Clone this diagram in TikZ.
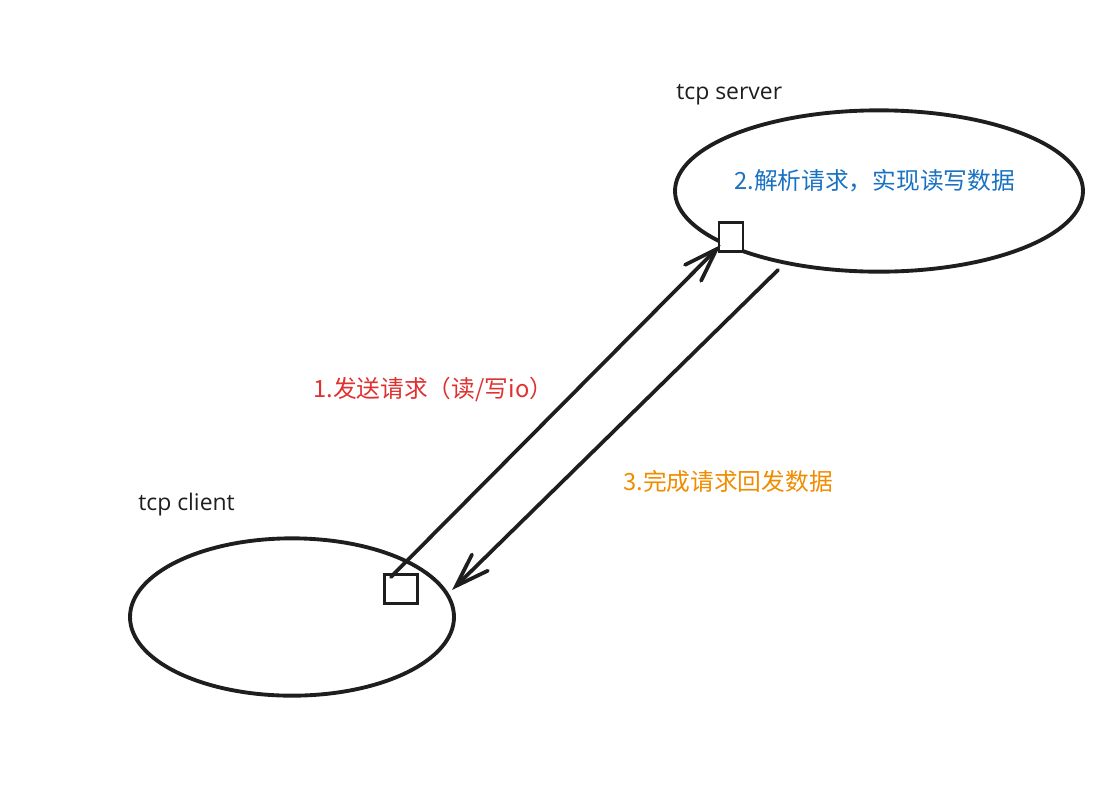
\documentclass[tikz,border=0pt]{standalone}
\usepackage{fontspec}
\setmainfont{Open Sans}
\newfontfamily\cjk{Noto Sans CJK SC}
\usetikzlibrary{shapes.geometric, arrows.meta, positioning}
\definecolor{inkblack}{HTML}{1E1E1E}
\definecolor{inkred}{HTML}{E03131}
\definecolor{inkblue}{HTML}{1971C2}
\definecolor{inkorange}{HTML}{F08C00}
\tikzset{
    host/.style = {ellipse, draw=inkblack, line width=2.9pt, inner sep=0pt},
    port/.style = {rectangle, draw=inkblack, line width=2.1pt, fill=white, inner sep=0pt},
    line/.style = {draw=inkblack, line width=2.8pt, line cap=round, -{Straight Barb[length=25pt, width=17pt, line cap=round]}},
    title/.style = {anchor=base west, inner sep=0pt, text=inkblack, font=\fontsize{17.2}{20}\selectfont},
    note/.style = {anchor=base west, inner sep=0pt, font=\cjk\fontsize{17.8}{21}\selectfont}
}

\begin{document}
\begin{tikzpicture}[x=0.75pt, y=-0.75pt]
        \useasboundingbox (0,0) rectangle (1113,801);
        % Hosts
        \node [host, minimum width=306pt, minimum height=121pt] (server) at (879,191) {};
        \node [host, minimum width=243pt, minimum height=118pt] (client) at (292,617) {};
        \node [title] (servername) at (676,99) {tcp server};
        \node [title] (clientname) at (138,510) {tcp client};
        % Ports
        \node [port, minimum width=18pt, minimum height=22pt] (sport) at (731,237) {};
        \node [port, minimum width=25pt, minimum height=22pt] (cport) at (401,589) {};
        % Labels
        \node [note, text=inkblue] (parse) at (734,189) {2.解析请求，实现读写数据};
        \node [note, text=inkred] (request) at (313,397) {1.发送请求（读/写io）};
        \node [note, text=inkorange] (reply) at (623,490) {3.完成请求回发数据};
        % Edges
        \coordinate (replyout) at (778,270);
        \coordinate (replyin) at (452,590);
        \path [line] ([shift={(8,4)}]cport.north west) -- ([shift={(3,-8)}]sport.south west);
        \path [line] (replyout) -- (replyin);
    \end{tikzpicture}
\end{document}
